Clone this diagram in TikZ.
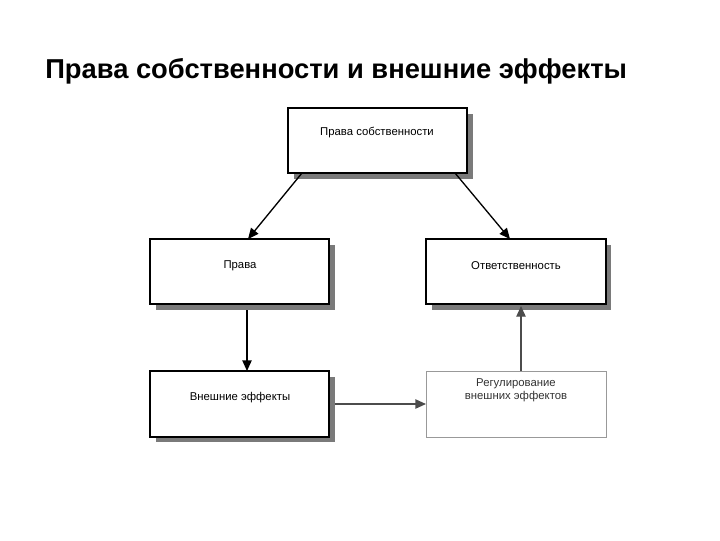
\documentclass[tikz,border=0pt]{standalone}
\usepackage{fontspec}
\setmainfont{Liberation Sans}
\usetikzlibrary{arrows.meta}
\begin{document}
\begin{tikzpicture}[x=0.75pt,y=-0.75pt,
  box/.style={draw=black,fill=white,line width=0.8pt},
  shad/.style={fill=gray!70!black!80},
  lbl/.style={font=\fontsize{8.5}{10}\selectfont,align=center},
  arr/.style={-{Triangle[length=8pt,width=7pt]},line width=1pt}]
\useasboundingbox (0,0) rectangle (720,540);
\node[anchor=west,inner sep=0pt,font=\bfseries\fontsize{20.5}{24}\selectfont] (title) at (45,71) {Права собственности и внешние эффекты};
% shadows
\foreach \x/\y in {288/108,150/239,426/239,150/371}
  \fill[shad] (\x+6,\y+6) rectangle (\x+185,\y+71);
\draw[box] (288,108) rectangle (467,173);
\draw[box] (150,239) rectangle (329,304);
\draw[box] (426,239) rectangle (606,304);
\draw[box] (150,371) rectangle (329,437);
\draw[draw=gray!80,fill=white] (426,371) rectangle (606,437);
\node[lbl] (n1) at (377,133) {Права собственности};
\node[lbl] (n2) at (240,266) {Права};
\node[lbl] (n3) at (516,266) {Ответственность};
\node[lbl] (n4) at (240,398) {Внешние эффекты};
\node[lbl,text=gray!40!black] (n5) at (516,390) {Регулирование\\внешних эффектов};
\coordinate (a1) at (302,173); \coordinate (b1) at (248,239);
\coordinate (a2) at (455,173); \coordinate (b2) at (510,239);
\coordinate (a3) at (247,310); \coordinate (b3) at (247,371);
\coordinate (a4) at (335,404); \coordinate (b4) at (426,404);
\coordinate (a5) at (521,371); \coordinate (b5) at (521,306);
\draw[arr] (a1) -- (b1);
\draw[arr] (a2) -- (b2);
\draw[arr] (a3) -- (b3);
\draw[arr,draw=gray!60!black,fill=gray!60!black] (a4) -- (b4);
\draw[arr,draw=gray!60!black,fill=gray!60!black] (a5) -- (b5);
\end{tikzpicture}
\end{document}
